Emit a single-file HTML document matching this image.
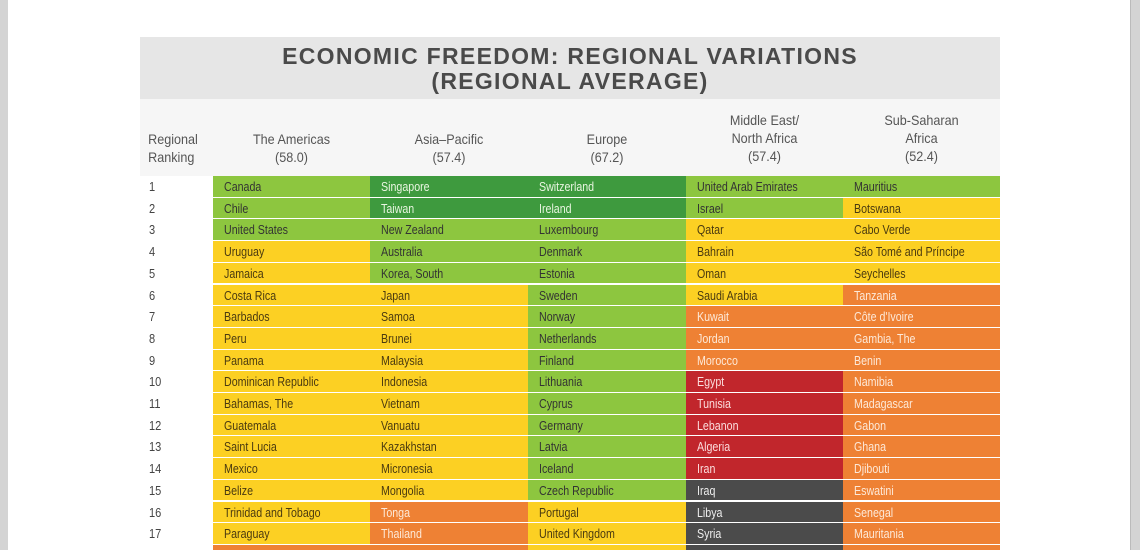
<!DOCTYPE html>
<html style="height:550px;overflow:hidden"><head><meta charset="utf-8"><style>
body{margin:0;width:1140px;height:550px;overflow:hidden;background:#fff;position:relative;font-family:"Liberation Sans Narrow","Liberation Sans",sans-serif;}
.bl{position:absolute;left:0;top:0;width:8px;height:550px;background:#d4d4d4}
.br{position:absolute;right:0;top:0;width:9px;height:550px;background:#d4d4d4;border-left:1px solid #bbb}
.title{position:absolute;left:140px;top:37px;width:860px;height:62px;background:#e6e6e6;color:#4a4a4a;font-family:"Liberation Sans",sans-serif;font-weight:bold;font-size:23px;line-height:25px;text-align:center;padding-top:7px;box-sizing:border-box;letter-spacing:1.3px}
.head{position:absolute;left:140px;top:99px;width:860px;height:77px;background:#f6f6f6}
.h{position:absolute;color:#555;font-size:14px;line-height:18px;text-align:center;transform:scaleX(.9)}
.rk{position:absolute;left:149px;color:#444;font-size:13px;transform-origin:left;transform:scaleX(.85)}
.c{position:absolute;height:20.7px;font-size:13px;line-height:21px;padding-left:11px;box-sizing:border-box;white-space:nowrap;overflow:hidden}
.c span{display:inline-block;transform:scaleX(.82);transform-origin:left}
.lg{background:#8dc63f;color:#333}.dg{background:#3e9a3e;color:#e8f5e0}.y{background:#fcd023;color:#4a3a10}.o{background:#ee8134;color:#fde9d8}.r{background:#c1262c;color:#fbdcdc}.k{background:#4b4b4b;color:#eee}
</style></head><body>
<div class="bl"></div><div class="br"></div>
<div class="title">ECONOMIC FREEDOM: REGIONAL VARIATIONS<br>(REGIONAL AVERAGE)</div>
<div class="head"></div>
<div class="h" style="left:140px;top:130px;width:70px;text-align:left;transform-origin:left;padding-left:9px">Regional<br>Ranking</div>
<div class="h" style="left:213px;top:130px;width:157px">The Americas<br>(58.0)</div>
<div class="h" style="left:370px;top:130px;width:158px">Asia–Pacific<br>(57.4)</div>
<div class="h" style="left:528px;top:130px;width:158px">Europe<br>(67.2)</div>
<div class="h" style="left:686px;top:111px;width:157px">Middle East/<br>North Africa<br>(57.4)</div>
<div class="h" style="left:843px;top:111px;width:157px">Sub-Saharan<br>Africa<br>(52.4)</div>
<div id="t"></div>
<script>
var d=[
["Canada","lg","Singapore","dg","Switzerland","dg","United Arab Emirates","lg","Mauritius","lg"],
["Chile","lg","Taiwan","dg","Ireland","dg","Israel","lg","Botswana","y"],
["United States","lg","New Zealand","lg","Luxembourg","lg","Qatar","y","Cabo Verde","y"],
["Uruguay","y","Australia","lg","Denmark","lg","Bahrain","y","São Tomé and Príncipe","y"],
["Jamaica","y","Korea, South","lg","Estonia","lg","Oman","y","Seychelles","y"],
["Costa Rica","y","Japan","y","Sweden","lg","Saudi Arabia","y","Tanzania","o"],
["Barbados","y","Samoa","y","Norway","lg","Kuwait","o","Côte d'Ivoire","o"],
["Peru","y","Brunei","y","Netherlands","lg","Jordan","o","Gambia, The","o"],
["Panama","y","Malaysia","y","Finland","lg","Morocco","o","Benin","o"],
["Dominican Republic","y","Indonesia","y","Lithuania","lg","Egypt","r","Namibia","o"],
["Bahamas, The","y","Vietnam","y","Cyprus","lg","Tunisia","r","Madagascar","o"],
["Guatemala","y","Vanuatu","y","Germany","lg","Lebanon","r","Gabon","o"],
["Saint Lucia","y","Kazakhstan","y","Latvia","lg","Algeria","r","Ghana","o"],
["Mexico","y","Micronesia","y","Iceland","lg","Iran","r","Djibouti","o"],
["Belize","y","Mongolia","y","Czech Republic","lg","Iraq","k","Eswatini","o"],
["Trinidad and Tobago","y","Tonga","o","Portugal","y","Libya","k","Senegal","o"],
["Paraguay","y","Thailand","o","United Kingdom","y","Syria","k","Mauritania","o"],
["","o","","o","","y","","k","","o"]];
var xs=[[213,157],[370,158],[528,158],[686,157],[843,157]],h="";
d.forEach(function(r,i){var top=176+i*21.7;
if(i<17)h+='<div class="rk" style="top:'+(top+3)+'px">'+(i+1)+'</div>';
for(var j=0;j<5;j++)h+='<div class="c '+r[j*2+1]+'" style="left:'+xs[j][0]+'px;width:'+xs[j][1]+'px;top:'+top+'px"><span>'+r[j*2]+'</span></div>';});
document.getElementById("t").innerHTML=h;
</script>
</body></html>
